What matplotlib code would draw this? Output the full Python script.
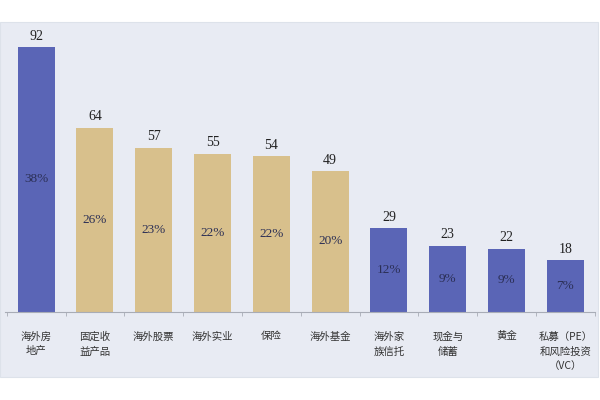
import matplotlib.pyplot as plt
from matplotlib.patches import Rectangle
import numpy as np

categories = ["海外房\n地产", "固定收\n益产品", "海外股票", "海外实业", "保险", "海外基金",
              "海外家\n族信托", "现金与\n储蓄", "黄金", "私募（PE）\n和风险投资\n（VC）"]
values = [92, 64, 57, 55, 54, 49, 29, 23, 22, 18]
shares = [38, 26, 23, 22, 22, 20, 12, 9, 9, 7]
groups = ["b", "t", "t", "t", "t", "t", "b", "b", "b", "b"]

blue = "#5a65b6"
tan = "#d8c08c"
bg = "#e8ebf3"

fig = plt.figure(figsize=(6, 4), dpi=100)
# light panel behind the chart
fig.add_artist(Rectangle((0, 0.0575), 0.997, 0.8875, transform=fig.transFigure,
                         facecolor=bg, edgecolor="#dde2ea", lw=0.8, zorder=-5))

ax = fig.add_axes([0.0083, 0.22, 0.983, 0.705])
ax.set_zorder(1)
ax.patch.set_alpha(0)
x = np.arange(len(values))
colors = [blue if g == "b" else tan for g in groups]
bars = ax.bar(x, values, width=0.63, color=colors)

for xi, v, s in zip(x, values, shares):
    ax.text(xi, v + 1.5, str(v), ha="center", va="bottom", fontsize=10,
            family="Liberation Serif", color="#222222")
    ax.text(xi, v / 2, f"{s}%", ha="center", va="center", fontsize=9.5,
            family="Liberation Serif", color="#2b2f55")

ax.set_xlim(-0.53, 9.47)
ax.set_ylim(0, 97.9)
for sp in ["top", "right", "left"]:
    ax.spines[sp].set_visible(False)
ax.spines["bottom"].set_color("#a8acb6")
ax.set_yticks([])
ax.set_xticks(x)
ax.set_xticklabels(categories, family=["Noto Sans CJK SC", "DejaVu Sans"], fontsize=7.5,
                   color="#333333", linespacing=1.6)
ax.tick_params(axis="x", which="major", length=0, pad=14)
ax.set_xticks(np.arange(-0.5, 10, 1), minor=True)
ax.tick_params(axis="x", which="minor", length=3, color="#a8acb6")

fig.savefig("out.png", dpi=100)
